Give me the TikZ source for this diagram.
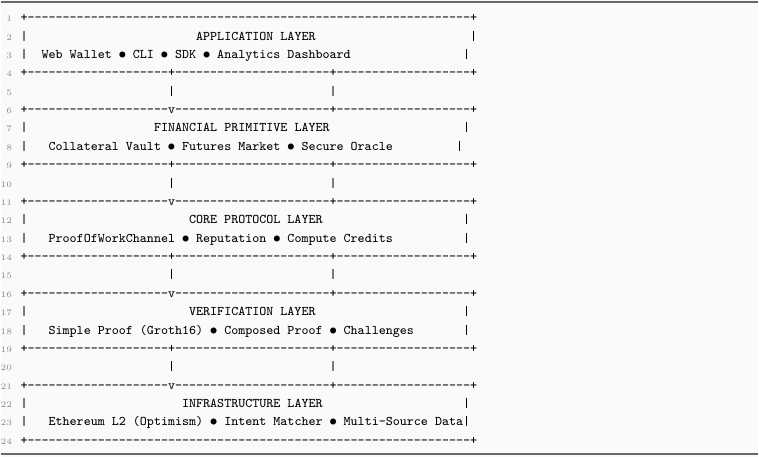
\documentclass[tikz,border=0pt]{standalone}
\usetikzlibrary{positioning}

\definecolor{listbg}{RGB}{250,250,250}
\definecolor{rulegray}{RGB}{105,105,105}
\definecolor{numgray}{RGB}{140,140,140}

\newcommand\dsh[1]{\foreach \k in {1,...,#1}{-}}
\newcommand\spc[1]{\hskip#1\fontdimen2\font\relax}
\newcommand\bul{\makebox[0.53125em]{$\bullet$}}

\begin{document}
\frenchspacing
\begin{tikzpicture}[x=0.5pt,y=-0.5pt]

	\tikzstyle{code} = [anchor=base west, inner sep=0pt, font=\fontsize{6.632pt}{9pt}\selectfont\ttfamily]
	\tikzstyle{num}  = [anchor=base east, inner sep=0pt, text=numgray, font=\fontsize{4.2pt}{5pt}\selectfont]
	\tikzstyle{hrule} = [draw=rulegray, line width=1pt]

	\fill [listbg] (0,0) rectangle (759,458);
	\draw [hrule] (0,2) -- (759,2);
	\draw [hrule] (0,455) -- (759,455);

	\begin{scope}[y=-9.21pt, yshift=-10.9pt]
		\foreach \i in {1,...,24}
			\node [num] (n\i) at (11.5,\i-1) {\i};

		\node [code] (l1)  at (19.2,0)  {+\dsh{63}+};
		\node [code] (l2)  at (19.2,1)  {|\spc{24}APPLICATION LAYER\spc{22}|};
		\node [code] (l3)  at (19.2,2)  {|\spc{2}Web Wallet \bul{} CLI \bul{} SDK \bul{} Analytics Dashboard\spc{16}|};
		\node [code] (l4)  at (19.2,3)  {+\dsh{20}+\dsh{22}+\dsh{19}+};
		\node [code] (l5)  at (19.2,4)  {\spc{21}|\spc{22}|};
		\node [code] (l6)  at (19.2,5)  {+\dsh{20}v\dsh{22}+\dsh{19}+};
		\node [code] (l7)  at (19.2,6)  {|\spc{18}FINANCIAL PRIMITIVE LAYER\spc{19}|};
		\node [code] (l8)  at (19.2,7)  {|\spc{3}Collateral Vault \bul{} Futures Market \bul{} Secure Oracle\spc{9}|};
		\node [code] (l9)  at (19.2,8)  {+\dsh{20}+\dsh{22}+\dsh{19}+};
		\node [code] (l10) at (19.2,9)  {\spc{21}|\spc{22}|};
		\node [code] (l11) at (19.2,10) {+\dsh{20}v\dsh{22}+\dsh{19}+};
		\node [code] (l12) at (19.2,11) {|\spc{23}CORE PROTOCOL LAYER\spc{20}|};
		\node [code] (l13) at (19.2,12) {|\spc{3}ProofOfWorkChannel \bul{} Reputation \bul{} Compute Credits\spc{10}|};
		\node [code] (l14) at (19.2,13) {+\dsh{20}+\dsh{22}+\dsh{19}+};
		\node [code] (l15) at (19.2,14) {\spc{21}|\spc{22}|};
		\node [code] (l16) at (19.2,15) {+\dsh{20}v\dsh{22}+\dsh{19}+};
		\node [code] (l17) at (19.2,16) {|\spc{23}VERIFICATION LAYER\spc{21}|};
		\node [code] (l18) at (19.2,17) {|\spc{3}Simple Proof (Groth16) \bul{} Composed Proof \bul{} Challenges\spc{7}|};
		\node [code] (l19) at (19.2,18) {+\dsh{20}+\dsh{22}+\dsh{19}+};
		\node [code] (l20) at (19.2,19) {\spc{21}|\spc{22}|};
		\node [code] (l21) at (19.2,20) {+\dsh{20}v\dsh{22}+\dsh{19}+};
		\node [code] (l22) at (19.2,21) {|\spc{22}INFRASTRUCTURE LAYER\spc{20}|};
		\node [code] (l23) at (19.2,22) {|\spc{3}Ethereum L2 (Optimism) \bul{} Intent Matcher \bul{} Multi-Source Data|};
		\node [code] (l24) at (19.2,23) {+\dsh{63}+};
	\end{scope}

\end{tikzpicture}
\end{document}
